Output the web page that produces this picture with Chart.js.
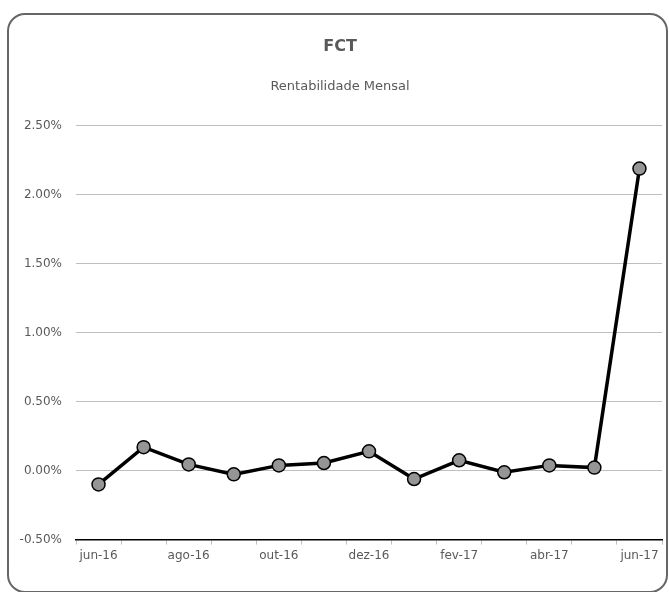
<!DOCTYPE html>
<html>
<head>
<meta charset="utf-8">
<script src="https://cdn.jsdelivr.net/npm/chart.js@4.4.1/dist/chart.umd.min.js"></script>
<style>
  body { margin:0; background:#fff; }
  .box {
    position:absolute; left:7px; top:13px;
    width:657px; height:576px;
    border:2px solid #666; border-radius:18px;
    overflow:hidden;
  }
  .box canvas { display:block; }
</style>
</head>
<body>
<div class="box"><canvas id="chart"></canvas></div>
<script>
// monthly return, %
const months = ['jun-16','jul-16','ago-16','set-16','out-16','nov-16','dez-16',
                'jan-17','fev-17','mar-17','abr-17','mai-17','jun-17'];
const returns = [-0.10, 0.17, 0.045, -0.027, 0.038, 0.055, 0.14,
                 -0.061, 0.075, -0.012, 0.038, 0.022, 2.19];
const yTicks = [-0.5, 0, 0.5, 1.0, 1.5, 2.0, 2.5];

const textColor = '#595959';
const fontFamily = '"DejaVu Sans", sans-serif';

new Chart(document.getElementById('chart'), {
    type:'line',
    data:{
        labels: months,
        datasets:[{
            data: returns,
            borderColor:'#000',
            borderWidth:3.5,
            tension:0,
            clip:false,
            pointRadius:6.5,
            pointBackgroundColor:'#959595',
            pointBorderColor:'#000',
            pointBorderWidth:1.5
        }]
    },
    options:{
        responsive:true,
        maintainAspectRatio:false,
        animation:false,
        layout:{ autoPadding:false, padding:{ left:9, right:4, top:0, bottom:24 } },
        plugins:{
            legend:{ display:false },
            tooltip:{ enabled:false },
            title:{
                display:true, text:'FCT', color:textColor,
                font:{ family:fontFamily, size:16, weight:'bold' },
                padding:{ top:22, bottom:0 }
            },
            subtitle:{
                display:true, text:'Rentabilidade Mensal', color:textColor,
                font:{ family:fontFamily, size:13 },
                padding:{ top:23, bottom:31 }
            }
        },
        scales:{
            x:{
                offset:true,
                afterFit: axis => { axis.paddingLeft = 0; axis.paddingRight = 0; },
                grid:{ offset:true, drawOnChartArea:false, color:'#bfbfbf', tickLength:5 },
                border:{ color:'#000', width:1.5 },
                ticks:{
                    autoSkip:false, maxRotation:0, color:textColor, padding:4,
                    font:{ family:fontFamily, size:12 },
                    callback:(v, i) => i % 2 === 0 ? months[i] : ''
                }
            },
            y:{
                min: yTicks[0],
                max: yTicks[yTicks.length - 1],
                afterBuildTicks: axis => { axis.ticks = yTicks.map(v => ({ value:v })); },
                afterFit: axis => { axis.width = 58; },
                grid:{ color:'#bfbfbf', drawTicks:false, lineWidth:1 },
                border:{ display:false },
                ticks:{
                    color:textColor, padding:14,
                    font:{ family:fontFamily, size:12 },
                    callback: v => v.toFixed(2) + '%'
                }
            }
        }
    }
});
</script>
</body>
</html>
